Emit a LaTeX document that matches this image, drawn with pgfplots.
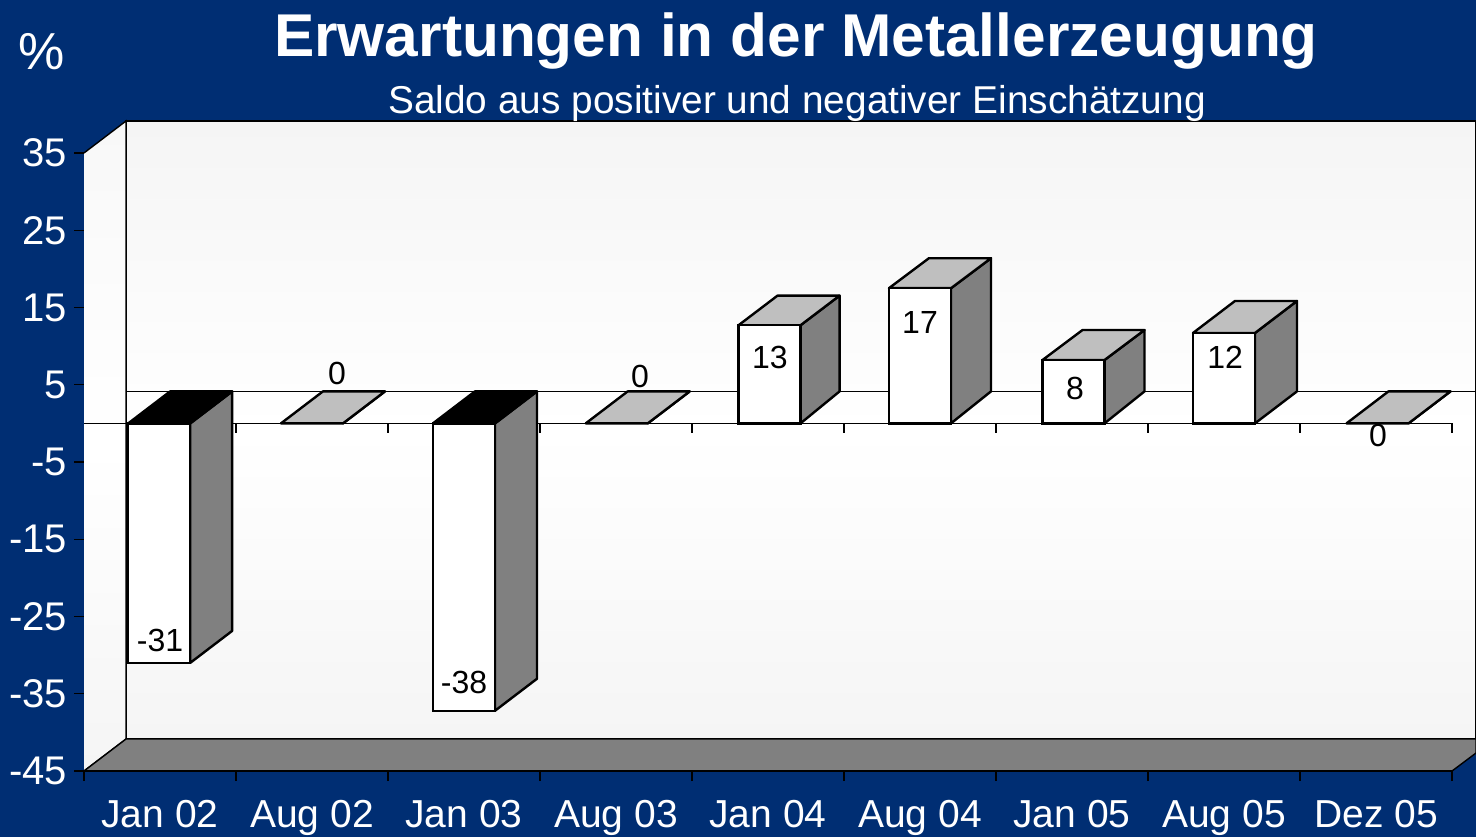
\documentclass[border=0pt]{standalone}
\usepackage{fontspec}
\setmainfont{Liberation Sans}
\usepackage{pgfplots}
\pgfplotsset{compat=1.18}

\definecolor{navy}{HTML}{002E73}
\definecolor{wallgray}{HTML}{F5F5F5}
\definecolor{topgray}{HTML}{BFBFBF}
\definecolor{sidegray}{HTML}{808080}

% half bar width and depth at the bar's foot, in axis units (1 px = 0.5pt)
\def\hw{0.204}
\def\dy{4.14}

% side and top face of one bar: centre, value, top colour, x depth, y depth of the top
\newcommand\barbox[5]{%
  \pgfmathsetmacro\xa{#1-\hw}%
  \pgfmathsetmacro\xb{#1+\hw}%
  \pgfmathsetmacro\xc{#1+\hw+#4}%
  \pgfmathsetmacro\xd{#1-\hw+#4}%
  \pgfmathsetmacro\ya{#2+#5}%
  \pgfmathsetmacro\yt{max(#2,0)}%
  \pgfmathsetmacro\yb{\yt+#5}%
  \addplot[draw=black, line width=1.2pt, line join=round, fill=sidegray] coordinates {(\xb,0) (\xc,\dy) (\xc,\ya) (\xb,#2)} --cycle;
  \addplot[draw=black, line width=1.2pt, line join=round, fill=#3] coordinates {(\xa,\yt) (\xb,\yt) (\xc,\yb) (\xd,\yb)} --cycle;
}

\begin{document}
\begin{tikzpicture}
\useasboundingbox (0,0) rectangle (738pt,418.5pt);
\fill[navy] (0,0) rectangle (738pt,418.5pt);
\begin{axis}[
    at={(42pt,33pt)},
    anchor=south west,
    scale only axis,
    width=696pt,
    height=325pt,
    xmin=-0.5, xmax=8.658,
    ymin=-45, ymax=39.14,
    axis line style={draw=none},
    clip=false,
    tick align=outside,
    major tick length=5pt,
    tick style={black, line width=0.7pt},
    xtick pos=bottom,
    ytick pos=left,
    xtick={-0.5,0.5,1.5,2.5,3.5,4.5,5.5,6.5,7.5,8.5},
    x tick label as interval,
    xticklabels={Jan 02,Aug 02,Jan 03,Aug 03,Jan 04,Aug 04,Jan 05,Aug 05,Dez 05},
    ytick={-45,-35,-25,-15,-5,5,15,25,35},
    yticklabels={-45,-35,-25,-15,-5,5,15,25,35},
    tick label style={white, font=\fontsize{20}{24}\selectfont},
    xticklabel style={yshift=-6pt, font=\fontsize{19.5}{24}\selectfont},
    title={\bfseries Erwartungen in der Metallerzeugung},
    every axis title shift=0pt,
    title style={at={(axis description cs:0.5115,1.1225)}, anchor=center, white, inner sep=0pt,
                 font=\fontsize{30.2}{34}\selectfont},
]
% walls and floor
\addplot[draw=black, line width=0.7pt, top color=wallgray, bottom color=wallgray, middle color=white]
    coordinates {(-0.2237,39.14) (8.658,39.14) (8.658,-40.86) (-0.2237,-40.86)} --cycle;
\addplot[draw=none, top color=wallgray!70!white, bottom color=wallgray, middle color=white]
    coordinates {(-0.5,35) (-0.2237,39.14) (-0.2237,-40.86) (-0.5,-45)} --cycle;
\addplot[black, line width=0.7pt] coordinates {(-0.5,35) (-0.2237,39.14) (-0.2237,-40.86) (-0.5,-45)};
\addplot[draw=black, line width=0.7pt, fill=sidegray]
    coordinates {(-0.5,-45) (-0.2237,-40.86) (8.658,-40.86) (8.658,-42.67) (8.5,-45)} --cycle;
\addplot[black, line width=1.2pt] coordinates {(-0.5,-45) (8.5,-45)};

% zero planes and the ticks on the zero line
\addplot[black, line width=0.5pt] coordinates {(-0.2237,4.14) (8.658,4.14)};
\addplot[black, line width=0.6pt] coordinates {(-0.5,0) (8.5,0)};
\addplot[ycomb, black, line width=0.6pt, mark=none] coordinates {
    (0.5,-1.3) (1.5,-1.3) (2.5,-1.3) (3.5,-1.3) (4.5,-1.3) (5.5,-1.3) (6.5,-1.3) (7.5,-1.3) (8.5,-1.3)};

% side and top faces
\barbox{-0.005}{-31}{black}{0.276}{4.14}
\barbox{1}{0}{topgray}{0.276}{4.14}
\barbox{2}{-37.2}{black}{0.276}{4.14}
\barbox{3.005}{0}{topgray}{0.276}{4.14}
\barbox{4.01}{12.7}{topgray}{0.257}{3.84}
\barbox{5}{17.5}{topgray}{0.263}{3.88}
\barbox{6.01}{8.2}{topgray}{0.263}{3.88}
\barbox{7}{11.7}{topgray}{0.276}{4.14}
\barbox{8.01}{0}{topgray}{0.276}{4.14}

% front faces
\addplot[ybar, bar width=0.408, bar shift=0pt, draw=black, line width=1.2pt, fill=white, mark=none] coordinates {
    (-0.005,-31) (2,-37.2) (4.01,12.7) (5,17.5) (6.01,8.2) (7,11.7)};

% data labels
\addplot[draw=none, mark=none, point meta=explicit symbolic, nodes near coords,
    every node near coord/.append style={anchor=center, inner sep=0pt, text=black, font=\fontsize{16}{18}\selectfont}]
    coordinates {
    (0,-28.04)[-31] (1.164,6.52)[0] (2,-33.48)[-38] (3.158,6.13)[0] (4.013,8.59)[13]
    (5,13.12)[17] (6.02,4.58)[8] (7.007,8.59)[12] (8.013,-1.63)[0]};
\end{axis}
\node[white, inner sep=0pt, font=\fontsize{19.4}{24}\selectfont] at (398.5pt,367pt) {Saldo aus positiver und negativer Einschätzung};
\node[white, inner sep=0pt, font=\fontsize{26}{30}\selectfont] at (21pt,392.5pt) {\%};
\end{tikzpicture}
\end{document}
